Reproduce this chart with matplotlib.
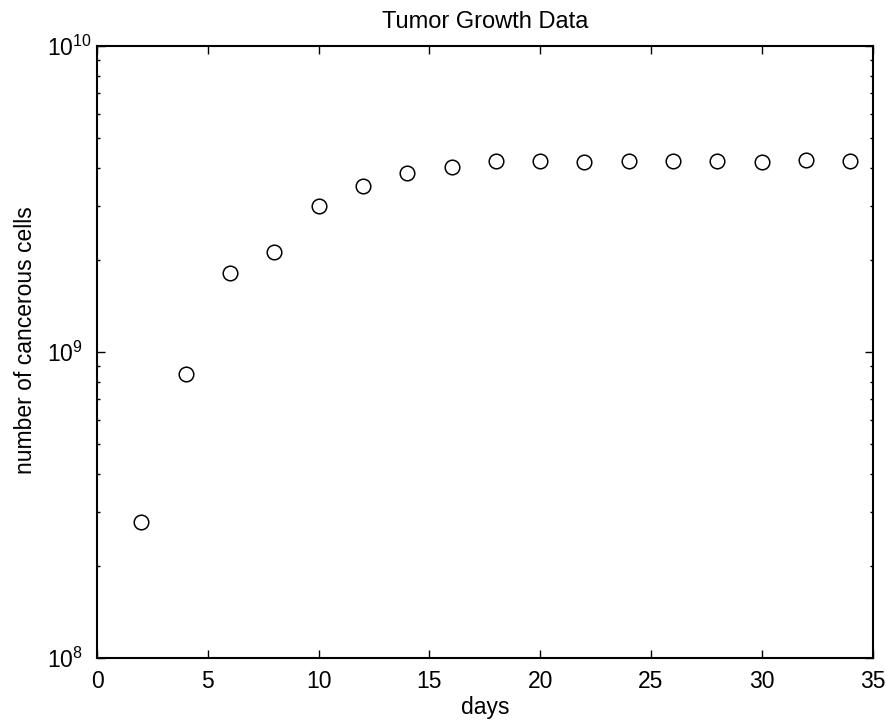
import numpy as np
import matplotlib
matplotlib.use('Agg')
import matplotlib.pyplot as plt
from matplotlib.ticker import LogLocator

plt.rcParams['font.family'] = ['Liberation Sans', 'DejaVu Sans']
plt.rcParams['mathtext.fontset'] = 'custom'
plt.rcParams['mathtext.rm'] = 'Liberation Sans'
plt.rcParams['mathtext.it'] = 'Liberation Sans'

# Tumor growth data
days = [2, 4, 6, 8, 10, 12, 14, 16, 18, 20, 22, 24, 26, 28, 30, 32, 34]
cells = [2.79e8, 8.5e8, 1.81e9, 2.13e9, 3.01e9, 3.50e9, 3.84e9, 4.01e9, 4.21e9,
         4.21e9, 4.18e9, 4.22e9, 4.21e9, 4.21e9, 4.18e9, 4.24e9, 4.21e9]
x_ticks = [0, 5, 10, 15, 20, 25, 30, 35]

fig = plt.figure(figsize=(8.86, 7.21), dpi=100)
ax = fig.add_axes([0.1095, 0.0874, 0.8753, 0.8488])

ax.semilogy(days, cells, 'o', markersize=10.5, markerfacecolor='none',
            markeredgecolor='black', markeredgewidth=1.1)

ax.set_xlim(0, 35)
ax.set_ylim(1e8, 1e10)
ax.set_xticks(x_ticks)
ax.yaxis.set_major_locator(LogLocator(base=10, numticks=5))
ax.yaxis.set_minor_locator(LogLocator(base=10, subs=np.arange(2, 10), numticks=20))
ax.xaxis.set_minor_locator(plt.NullLocator())

for s in ax.spines.values():
    s.set_linewidth(1.5)
ax.tick_params(which='both', direction='in', top=True, right=True, width=1.0)
ax.tick_params(which='major', length=5.5, labelsize=16.5)
ax.tick_params(axis='x', which='major', pad=9)
# MATLAB-style: y labels left-aligned, so the "10" bases line up
ax.tick_params(axis='y', which='major', pad=36)
fig.canvas.draw()
plt.setp(ax.get_yticklabels(), ha='left')

ax.set_title('Tumor Growth Data', fontsize=17, pad=13)
ax.set_xlabel('days', fontsize=16.5, labelpad=2)
ax.set_ylabel('number of cancerous cells', fontsize=16.5)
ax.yaxis.set_label_coords(-0.077, 0.52)

fig.savefig('out.png', dpi=100)
